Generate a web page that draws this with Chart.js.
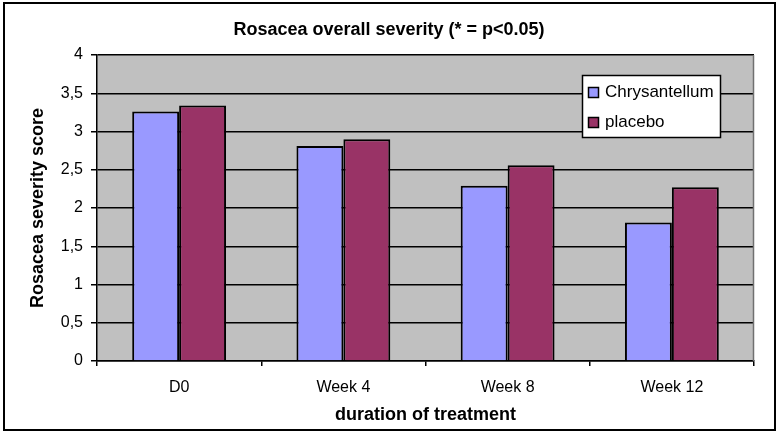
<!DOCTYPE html>
<html>
<head>
<meta charset="utf-8">
<script src="https://cdn.jsdelivr.net/npm/chart.js@4.4.1/dist/chart.umd.min.js"></script>
<style>
    html, body { margin: 0; padding: 0; background: #ffffff; }
    #wrap { width: 778px; height: 434px; position: relative; }
</style>
</head>
<body>
<div id="wrap"><canvas id="chart" width="778" height="434"></canvas></div>
<script>
// 圖表資料
const categories = ['D0', 'Week 4', 'Week 8', 'Week 12'];
const chrysantellum = [3.26, 2.81, 2.29, 1.81];
const placebo = [3.34, 2.90, 2.56, 2.27];
const seriesNames = ['Chrysantellum', 'placebo'];
const seriesColors = ['#9999ff', '#993366'];

const FONT = "'Liberation Sans', Arial, sans-serif";

// 繪圖區灰底 (畫在格線下方) 與外框
const frame = {
    id: 'frame',
    beforeDatasetsDraw(chart) {
        const { ctx, chartArea: a } = chart;
        ctx.save();
        ctx.globalCompositeOperation = 'destination-over';
        ctx.fillStyle = '#c0c0c0';
        ctx.fillRect(a.left, a.top, a.right - a.left, a.bottom - a.top);
        ctx.restore();
        ctx.save();
        ctx.strokeStyle = '#707070';
        ctx.lineWidth = 1.5;
        ctx.beginPath();
        ctx.moveTo(a.right - 0.5, a.top);
        ctx.lineTo(a.right - 0.5, a.bottom);
        ctx.stroke();
        ctx.restore();
    },
    afterDraw(chart) {
        const { ctx } = chart;
        ctx.save();
        ctx.globalCompositeOperation = 'destination-over';
        ctx.fillStyle = '#ffffff';
        ctx.fillRect(0, 0, chart.width, chart.height);
        ctx.restore();
        ctx.save();
        ctx.strokeStyle = '#000000';
        ctx.lineWidth = 2;
        ctx.strokeRect(4, 3, 771, 427);
        ctx.restore();
    }
};

// 圖例框 (Excel 風格)
const boxLegend = {
    id: 'boxLegend',
    afterDatasetsDraw(chart) {
        const { ctx } = chart;
        const x = 582, y = 75, w = 138, h = 62;
        ctx.save();
        ctx.fillStyle = '#ffffff';
        ctx.fillRect(x, y, w, h);
        ctx.strokeStyle = '#000000';
        ctx.lineWidth = 1.5;
        ctx.strokeRect(x + 0.5, y + 0.5, w, h);
        ctx.font = '17px ' + FONT;
        ctx.textBaseline = 'middle';
        chart.data.datasets.forEach((ds, i) => {
            const cy = y + 17 + i * 30;
            ctx.fillStyle = ds.backgroundColor;
            ctx.fillRect(x + 6, cy - 5, 10, 10);
            ctx.strokeRect(x + 6.5, cy - 4.5, 10, 10);
            ctx.fillStyle = '#000000';
            ctx.fillText(ds.label, x + 23, cy);
        });
        ctx.restore();
    }
};

new Chart(document.getElementById('chart'), {
    type: 'bar',
    data: {
        labels: categories,
        datasets: [chrysantellum, placebo].map((data, i) => ({
            label: seriesNames[i],
            data,
            backgroundColor: seriesColors[i],
            borderColor: '#000000',
            borderWidth: 2,
            categoryPercentage: 2 / 3.5,
            barPercentage: 1
        }))
    },
    options: {
        responsive: false,
        animation: false,
        layout: { padding: 0 },
        plugins: {
            legend: { display: false },
            tooltip: { enabled: false },
            title: {
                display: true,
                text: 'Rosacea overall severity (* = p<0.05)',
                color: '#000000',
                font: { family: FONT, size: 18, weight: 'bold' },
                padding: { top: 19, bottom: 14.4 }
            }
        },
        scales: {
            x: {
                afterFit: s => { s.height = 73; },
                grid: { display: true, drawOnChartArea: false, drawTicks: true, tickLength: 5, offset: true, color: '#000000', lineWidth: 1.5 },
                border: { color: '#000000', width: 1.5 },
                ticks: { color: '#000000', padding: 12, font: { family: FONT, size: 16 } },
                title: {
                    display: true,
                    text: 'duration of treatment',
                    color: '#000000',
                    font: { family: FONT, size: 18, weight: 'bold' },
                    padding: { top: 0, bottom: 8 }
                }
            },
            y: {
                min: 0,
                max: 4,
                afterFit: s => { s.width = 97; },
                grid: { display: true, drawOnChartArea: true, color: '#000000', lineWidth: 1.5, tickLength: 6 },
                border: { color: '#000000', width: 1.5 },
                ticks: {
                    stepSize: 0.5,
                    color: '#000000',
                    padding: 8,
                    font: { family: FONT, size: 16 },
                    callback: v => String(v).replace('.', ',')
                },
                title: {
                    display: true,
                    text: 'Rosacea severity score',
                    color: '#000000',
                    font: { family: FONT, size: 18, weight: 'bold' },
                    padding: { top: 27, bottom: 0 }
                }
            },
            // 右側留白用的空軸
            pad: {
                position: 'right',
                afterFit: s => { s.width = 24; },
                grid: { display: false },
                border: { display: false },
                ticks: { display: false }
            }
        }
    },
    plugins: [frame, boxLegend]
});
</script>
</body>
</html>
